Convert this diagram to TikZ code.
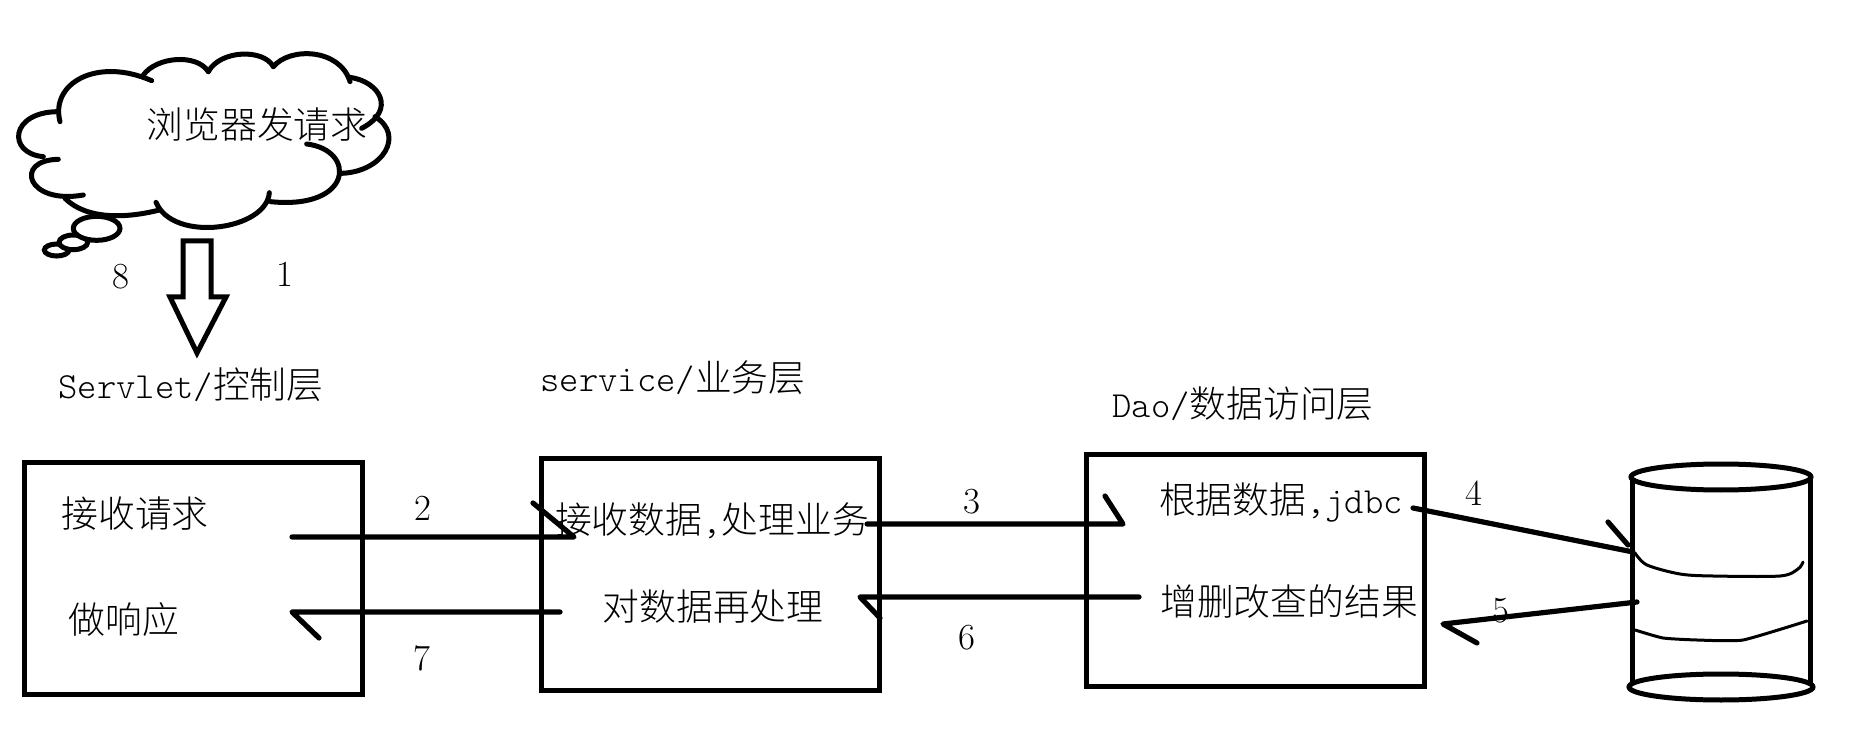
\documentclass[tikz,border=0pt]{standalone}
\usepackage{fontspec}
\usetikzlibrary{positioning}
\newfontfamily\cjk[UprightFont={* Light}]{Noto Sans CJK SC}
\newcommand{\lat}[1]{{\fontseries{l}\ttfamily\selectfont #1}}

\begin{document}
\begin{tikzpicture}[x=0.5pt,y=-0.5pt,
  layerbox/.style={draw,line width=2.5pt,minimum width=169pt,minimum height=116pt,inner sep=0pt},
  txt/.style={inner sep=0pt,font=\fontsize{18.4}{20}\selectfont\cjk},
  num/.style={inner sep=0pt,font=\fontsize{18.4}{20}\selectfont\rmfamily},
  wire/.style={line width=2.6pt,line cap=round,line join=miter},
  thick line/.style={line width=2.5pt,line join=miter},
  lobe/.style={line width=2.5pt,line cap=round},
  thin line/.style={line width=1.5pt,line cap=round}]
\useasboundingbox (0,0) rectangle (1870,743);

% thought cloud
\begin{scope}[shift={(0,40)},x=0.16667pt,y=-0.16667pt]
\draw[lobe] (180,245) .. controls (150,130) and (290,50) .. (455,122);
\draw[lobe] (430,105) .. controls (470,50) and (590,40) .. (625,95);
\draw[lobe] (625,95) .. controls (660,30) and (790,25) .. (820,80);
\draw[lobe] (820,80) .. controls (870,20) and (1020,25) .. (1050,125);
\draw[lobe] (1050,112) .. controls (1140,125) and (1190,210) .. (1085,265);
\draw[lobe] (1125,230) .. controls (1215,285) and (1150,395) .. (1025,400);
\draw[lobe] (920,312) .. controls (1070,330) and (1060,510) .. (812,485);
\draw[lobe] (808,458) .. controls (800,570) and (520,610) .. (468,487);
\draw[lobe] (478,510) .. controls (380,535) and (260,540) .. (195,475);
\draw[lobe] (250,465) .. controls (80,495) and (40,360) .. (175,358);
\draw[lobe] (175,215) .. controls (30,215) and (20,340) .. (130,350);
\draw[thick line,fill=white] (170,630) ellipse (37 and 18);
\draw[thick line,fill=white] (220,607) ellipse (43 and 22);
\draw[thick line,fill=white] (290,565) ellipse (70 and 36);
\end{scope}
\node[txt] (browser) at (257,125) {浏览器发请求};

% block arrow
\draw[thick line] (183,241) -- (211,241) -- (211,297) -- (226,297) -- (197,353) -- (170,297) -- (183,297) -- cycle;
\node[num] (n8) at (121,277) {8};
\node[num] (n1) at (285,274) {1};

% layers
\node[layerbox] (ctrl) at (193,578.5) {};
\node[layerbox] (svc) at (710,574) {};
\node[layerbox] (dao) at (1255.5,570.5) {};
\node[txt] (ctrlT) at (191,385) {\lat{Servlet/}控制层};
\node[txt] (svcT) at (673,378) {\lat{service/}业务层};
\node[txt] (daoT) at (1243,404) {\lat{Dao/}数据访问层};
\node[txt] (recv) at (135,514) {接收请求};
\node[txt] (resp) at (124,620) {做响应};
\node[txt] (handle) at (712,521) {接收数据\lat{,}处理业务};
\node[txt] (again) at (713,607) {对数据再处理};
\node[txt] (query) at (1281,502) {根据数据\lat{,jdbc}};
\node[txt] (result) at (1289,601) {增删改查的结果};

% database
\draw[thick line] (1632,477) -- (1632,687);
\draw[thick line] (1810,477) -- (1810,687);
\draw[thick line,fill=white] (1721,477) ellipse (90 and 13);
\draw[thick line,fill=white] (1721,687) ellipse (92 and 13);
\draw[thin line] plot[smooth,tension=0.5] coordinates {(1635,553) (1647,565) (1680,574) (1713,576) (1780,576) (1798,569) (1803,562)};
\draw[thin line] plot[smooth,tension=0.3] coordinates {(1635,630) (1663,638) (1697,640) (1743,640) (1807,621)};

% hand drawn arrows
\coordinate (a2s) at (292,537); \coordinate (a2e) at (574,537); \coordinate (a2b) at (533,503);
\coordinate (a7s) at (560,612); \coordinate (a7e) at (292,612); \coordinate (a7b) at (319,638);
\coordinate (a3s) at (867,524); \coordinate (a3e) at (1123,524); \coordinate (a3b) at (1105,496);
\coordinate (a6s) at (1139,597); \coordinate (a6e) at (860,597); \coordinate (a6b) at (880,618);
\coordinate (a4s) at (1413,508); \coordinate (a4e) at (1633,552);
\coordinate (a4c) at (1608,522); \coordinate (a4b) at (1628,545);
\coordinate (a5s) at (1637,602); \coordinate (a5e) at (1443,624); \coordinate (a5b) at (1477,643);
\draw[wire,line join=round] (a2s) -- (a2e) -- (a2b);
\draw[wire,line join=round] (a7s) -- (a7e) -- (a7b);
\draw[wire,line join=round] (a3s) -- (a3e) -- (a3b);
\draw[wire,line join=round] (a6s) -- (a6e) -- (a6b);
\draw[wire] (a4s) -- (a4e);
\draw[wire] (a4c) -- (a4b);
\draw[wire,line join=round] (a5s) -- (a5e) -- (a5b);
\node[num] (n2) at (423,508) {2};
\node[num] (n7) at (422,658) {7};
\node[num] (n3) at (972,502) {3};
\node[num] (n6) at (967,638) {6};
\node[num] (n4) at (1474,493) {4};
\node[num] (n5) at (1501,611) {5};
\end{tikzpicture}
\end{document}
